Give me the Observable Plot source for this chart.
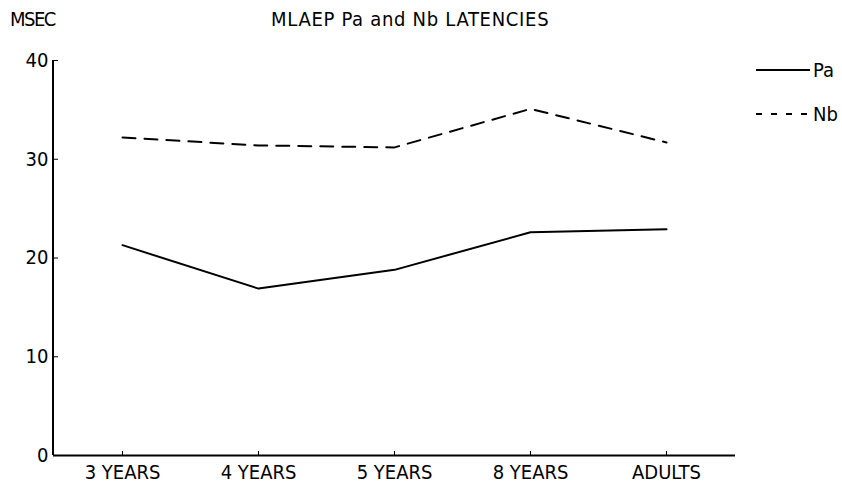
<!DOCTYPE html>
<html><head><meta charset="utf-8">
<script src="https://cdn.jsdelivr.net/npm/d3@7"></script>
<script src="https://cdn.jsdelivr.net/npm/@observablehq/plot@0.6"></script>
<style>
body{margin:0;background:#fff;}
#wrap{position:relative;width:842px;height:492px;font-family:"DejaVu Sans Condensed","Liberation Sans Narrow",sans-serif;color:#000;}
.lbl{position:absolute;font-size:20px;line-height:1;white-space:nowrap;}
#unit{letter-spacing:-1.5px;}
#title{letter-spacing:0.7px;}
#legend{position:absolute;left:756px;top:58px;}
#legend .row{display:flex;align-items:center;height:24px;margin-bottom:20px;font-size:20px;}
#legend svg{margin-right:3px;}
</style></head><body><div id="wrap">
<div class="lbl" id="unit" style="left:10px;top:9px;">MSEC</div>
<div class="lbl" id="title" style="left:271px;top:9px;">MLAEP Pa and Nb LATENCIES</div>
<div id="legend"></div>
</div>
<script>
const categories = ["3 YEARS", "4 YEARS", "5 YEARS", "8 YEARS", "ADULTS"];
const paValues = [21.3, 16.9, 18.8, 22.6, 22.9];
const nbValues = [32.2, 31.4, 31.2, 35.1, 31.7];
const yTicks = [0, 10, 20, 30, 40];
const seriesNames = ["Pa", "Nb"];
const seriesDash = {Pa: null, Nb: "13,9"};

const rows = [
  ...categories.map((c, i) => ({group: c, value: paValues[i], series: "Pa"})),
  ...categories.map((c, i) => ({group: c, value: nbValues[i], series: "Nb"}))
];

function leftAxisLine(index, scales, values, dims) {
  const l = document.createElementNS("http://www.w3.org/2000/svg", "line");
  l.setAttribute("x1", dims.marginLeft); l.setAttribute("x2", dims.marginLeft);
  l.setAttribute("y1", dims.marginTop); l.setAttribute("y2", dims.height - dims.marginBottom);
  l.setAttribute("stroke", "black"); l.setAttribute("stroke-width", 2);
  return l;
}

const chart = Plot.plot({
  width: 842, height: 492,
  marginLeft: 53, marginRight: 107, marginTop: 60, marginBottom: 37,
  style: {fontFamily: '"DejaVu Sans Condensed","Liberation Sans Narrow",sans-serif', fontSize: "20px", background: "white", color: "black", overflow: "visible"},
  x: {type: "point", domain: categories, padding: 0.5, label: null},
  y: {domain: [0, 40], label: null},
  marks: [
    Plot.axisX({ticks: categories, tickSize: -4, tickPadding: 13, label: null, fontSize: 20}),
    Plot.axisY({ticks: yTicks, tickSize: -5, tickPadding: 10, label: null, fontSize: 20, tickFormat: d => String(d)}),
    Plot.ruleY([0], {strokeWidth: 2}),
    leftAxisLine,
    ...seriesNames.map(s => Plot.line(rows.filter(r => r.series === s), {
      x: "group", y: "value", stroke: "black", strokeWidth: 2,
      strokeDasharray: seriesDash[s] || undefined
    }))
  ]
});
document.getElementById("wrap").appendChild(chart);

const legend = document.getElementById("legend");
seriesNames.forEach(s => {
  const row = document.createElement("div");
  row.className = "row";
  row.innerHTML = `<svg width="54" height="6"><line x1="0" y1="3" x2="54" y2="3" stroke="black" stroke-width="2" ${seriesDash[s] ? 'stroke-dasharray="6,9"' : ''}/></svg><span>${s}</span>`;
  legend.appendChild(row);
});
</script>
</body></html>
